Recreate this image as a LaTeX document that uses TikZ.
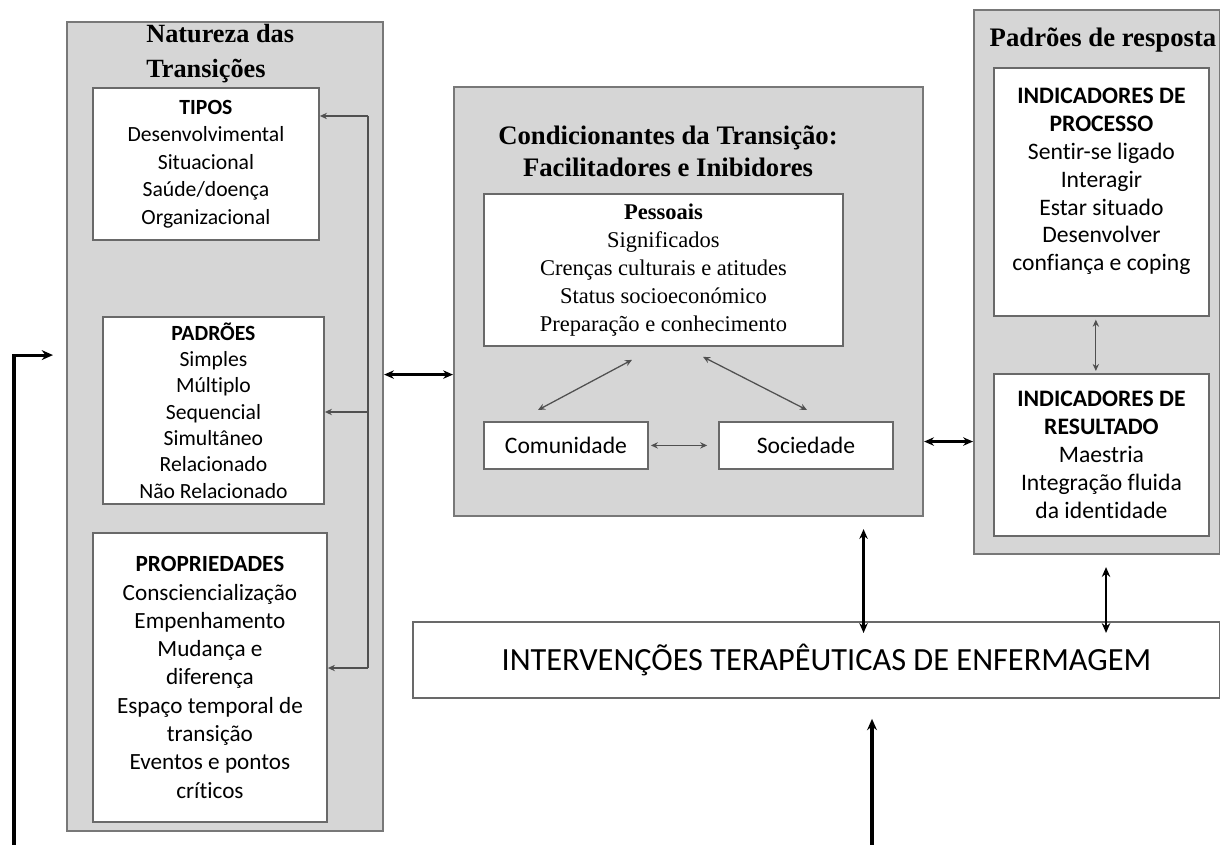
\documentclass[tikz,border=0pt]{standalone}
\usepackage{fontspec}
\setmainfont{Carlito}[Ligatures={NoCommon}]
\newfontfamily\tnr{Liberation Serif}
\usetikzlibrary{arrows.meta, calc}

\definecolor{panelgray}{RGB}{214,214,214}
\definecolor{panelline}{RGB}{120,120,120}
\definecolor{boxline}{RGB}{105,105,105}
\definecolor{spinegray}{RGB}{80,80,80}

\tikzset{
  panel/.style={draw=panelline, line width=1.4pt, fill=panelgray, anchor=north west, inner sep=0pt},
  box/.style={draw=boxline, line width=1.3pt, fill=white, anchor=north west, inner sep=0pt, align=center,
    font=\fontsize{16.8}{19.5}\selectfont},
  bodytext/.style={align=center, inner sep=0pt, font=\fontsize{16.8}{19.8}\selectfont},
  ttl/.style={align=center, inner sep=0pt, font=\tnr\bfseries\fontsize{19}{23}\selectfont},
  link/.style={{Stealth[length=7pt,width=6pt]}-{Stealth[length=7pt,width=6pt]}, line width=1.8pt},
  feed/.style={-{Stealth[length=8pt,width=7pt]}, line width=2.2pt},
  thinlink/.style={{Stealth[length=5pt,width=4.5pt]}-{Stealth[length=5pt,width=4.5pt]}, line width=0.9pt, draw=spinegray},
  spine/.style={line width=1.1pt, draw=spinegray},
  spinearrow/.style={-{Stealth[length=5pt,width=4.5pt]}, line width=1.1pt, draw=spinegray}
}

\begin{document}
\begin{tikzpicture}[x=0.025cm, y=-0.025cm]
  \useasboundingbox (0,0) rectangle (1220,845);

  % natureza das transicoes
  \node[panel, minimum width=7.9cm, minimum height=20.225cm] (natpanel) at (66,21) {};
  \node[ttl, align=left, anchor=west, font=\tnr\bfseries\fontsize{18.7}{25}\selectfont] (nattitle) at (146,54) {Natureza das\\Transições};

  \node[box, minimum width=5.65cm, minimum height=3.8cm, font=\fontsize{15.4}{19.5}\selectfont] (tipos) at (92,87)
    {\textbf{TIPOS}\\Desenvolvimental\\Situacional\\Saúde/doença\\Organizacional};
  \node[box, minimum width=5.525cm, minimum height=4.675cm, font=\fontsize{15.4}{18.7}\selectfont] (padroes) at (102,316)
    {\textbf{PADRÕES}\\Simples\\Múltiplo\\Sequencial\\Simultâneo\\Relacionado\\Não Relacionado};
  \node[box, minimum width=5.85cm, minimum height=7.225cm, font=\fontsize{16.5}{20.1}\selectfont] (props) at (92,532)
    {\textbf{PROPRIEDADES}\\Consciencialização\\Empenhamento\\Mudança e\\diferença\\Espaço temporal de\\transição\\Eventos e pontos\\críticos};

  \coordinate (spinetop) at (368,116);
  \coordinate (spinemid) at (368,412);
  \coordinate (spinebot) at (368,668);
  \draw[spine] (spinetop) -- (spinebot);
  \draw[spinearrow] (spinetop) -- (spinetop -| tipos.east);
  \draw[spinearrow] (spinemid) -- (spinemid -| padroes.east);
  \draw[spinearrow] (spinebot) -- (spinebot -| props.east);

  % condicionantes
  \node[panel, minimum width=11.725cm, minimum height=10.725cm] (condpanel) at (453,86) {};
  \node[ttl, font=\tnr\bfseries\fontsize{19}{22.8}\selectfont] (condtitle) at (668,151)
    {Condicionantes da Transição:\\Facilitadores e Inibidores};
  \node[box, minimum width=8.975cm, minimum height=3.8cm, font=\tnr\fontsize{16}{20}\selectfont] (pessoais) at (483,193)
    {\textbf{Pessoais}\\Significados\\Crenças culturais e atitudes\\Status socioeconómico\\Preparação e conhecimento};
  \node[box, minimum width=4.1cm, minimum height=1.175cm] (comun) at (483,421) {Comunidade};
  \node[box, minimum width=4.35cm, minimum height=1.175cm] (socied) at (718,421) {Sociedade};

  \draw[thinlink] ([shift={(149,13)}]pessoais.south west) -- ([shift={(55,-11)}]comun.north west);
  \draw[thinlink] ([shift={(220,10)}]pessoais.south west) -- ([shift={(89,-11)}]socied.north west);
  \draw[thinlink, shorten <=0.05cm, shorten >=0.27cm] (comun.east) -- (socied.west);

  % padroes de resposta
  \node[panel, minimum width=6.15cm, minimum height=13.6cm] (resppanel) at (973,9) {};
  \node[ttl] (resptitle) at (1103,40) {Padrões de resposta};
  \node[box, minimum width=5.375cm, minimum height=6.2cm] (processo) at (993,67) {};
  \node[bodytext, anchor=north] (proctxt) at ([shift={(0,21)}]processo.north)
    {\textbf{INDICADORES DE}\\\textbf{PROCESSO}\\Sentir-se ligado\\Interagir\\Estar situado\\Desenvolver\\confiança e coping};
  \node[box, minimum width=5.375cm, minimum height=4.05cm, font=\fontsize{16.8}{19.8}\selectfont] (resultado) at (993,373)
    {\textbf{INDICADORES DE}\\\textbf{RESULTADO}\\Maestria\\Integração fluida\\da identidade};
  \draw[thinlink, shorten <=0.07cm, shorten >=0.05cm] ([xshift=-0.14cm]processo.south) -- ([xshift=-0.14cm]resultado.north);

  % intervencoes
  \node[box, minimum width=20.175cm, minimum height=1.9cm, font=\fontsize{23}{26}\selectfont] (interv) at (412,621)
    {\hspace*{0.5cm}INTERVENÇÕES TERAPÊUTICAS DE ENFERMAGEM};

  \draw[link] ([shift={(0,-52)}]natpanel.east) -- ([shift={(0,-52)}]natpanel.east -| condpanel.west);
  \draw[link] ([shift={(0,140)}]condpanel.east) -- ([shift={(0,140)}]condpanel.east -| resppanel.west);
  \draw[link] ([shift={(175,12)}]condpanel.south) -- ([shift={(175,12)}]condpanel.south |- interv.north);
  \draw[link] ([shift={(9,12)}]resppanel.south) -- ([shift={(9,12)}]resppanel.south |- interv.north);

  \coordinate (intervin) at (872,845);
  \coordinate (feedin) at (14,845);
  \draw[feed, shorten >=0.5cm] (intervin) -- (intervin |- interv.south);
  \draw[feed] (feedin) |- ([shift={(-13,-71.5)}]natpanel.west);
\end{tikzpicture}
\end{document}
